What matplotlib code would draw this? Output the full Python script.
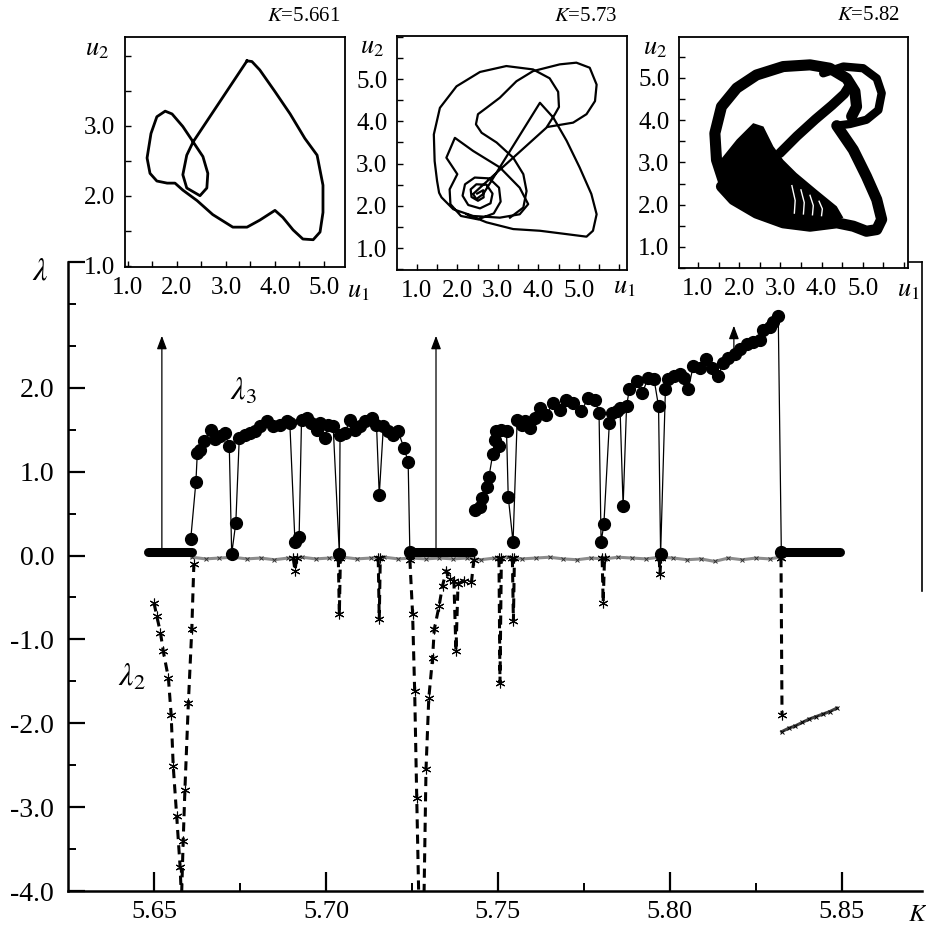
import numpy as np
import matplotlib
matplotlib.use("Agg")
import matplotlib.pyplot as plt

plt.rcParams['font.family'] = ['Liberation Serif', 'DejaVu Serif']
plt.rcParams['mathtext.fontset'] = 'stix'

# ---------------- main panel: Lyapunov exponents vs K ----------------
# periodic windows (thick dotted band just above zero)
band_start = [5.6483, 5.7244, 5.8323]
band_end = [5.6610, 5.7427, 5.8494]
band_level = 0.04

# lambda_3 (filled circles), two chaotic windows
lam3a_k = [5.6607, 5.6622, 5.6626, 5.6634, 5.6645, 5.6665, 5.6677, 5.6692, 5.6706, 5.6719,
           5.6726, 5.6738, 5.6748, 5.6765, 5.6780, 5.6795, 5.6808, 5.6828, 5.6847, 5.6866,
           5.6886, 5.6895, 5.6910, 5.6922, 5.6929, 5.6944, 5.6958, 5.6973, 5.6982, 5.6997,
           5.7007, 5.7021, 5.7039, 5.7041, 5.7055, 5.7070, 5.7084, 5.7099, 5.7113, 5.7133,
           5.7147, 5.7155, 5.7167, 5.7181, 5.7196, 5.7210, 5.7227, 5.7239, 5.7244]
lam3a_v = [0.20, 0.88, 1.22, 1.26, 1.36, 1.50, 1.39, 1.42, 1.46, 1.30,
           0.02, 0.39, 1.40, 1.44, 1.46, 1.48, 1.54, 1.60, 1.54, 1.56,
           1.60, 1.58, 0.16, 0.22, 1.62, 1.64, 1.58, 1.50, 1.58, 1.40,
           1.56, 1.54, 0.02, 1.44, 1.46, 1.62, 1.50, 1.54, 1.60, 1.64,
           1.56, 0.72, 1.54, 1.48, 1.44, 1.48, 1.28, 1.12, 0.04]
lam3b_k = [5.7433, 5.7448, 5.7453, 5.7467, 5.7474, 5.7485, 5.7491, 5.7504, 5.7494, 5.7508,
           5.7525, 5.7530, 5.7544, 5.7556, 5.7569, 5.7580, 5.7593, 5.7607, 5.7622, 5.7641,
           5.7660, 5.7680, 5.7699, 5.7719, 5.7743, 5.7762, 5.7782, 5.7794, 5.7800, 5.7808,
           5.7824, 5.7831, 5.7845, 5.7855, 5.7864, 5.7874, 5.7882, 5.7903, 5.7920, 5.7937,
           5.7954, 5.7967, 5.7973, 5.7987, 5.7995, 5.8012, 5.8029, 5.8040, 5.8053, 5.8068,
           5.8087, 5.8105, 5.8121, 5.8141, 5.8155, 5.8170, 5.8189, 5.8203, 5.8223, 5.8242,
           5.8262, 5.8271, 5.8291, 5.8300, 5.8315, 5.8324]
lam3b_v = [0.54, 0.58, 0.68, 0.82, 0.94, 1.21, 1.38, 1.31, 1.48, 1.50,
           1.49, 0.70, 0.16, 1.62, 1.56, 1.60, 1.52, 1.64, 1.76, 1.68,
           1.82, 1.74, 1.86, 1.82, 1.72, 1.88, 1.86, 1.70, 0.16, 0.37,
           1.58, 1.70, 1.72, 1.76, 0.59, 1.78, 1.98, 2.08, 1.94, 2.12,
           2.10, 1.78, 0.02, 1.98, 2.10, 2.14, 2.17, 2.12, 1.98, 2.26,
           2.24, 2.34, 2.24, 2.14, 2.30, 2.36, 2.40, 2.46, 2.52, 2.54,
           2.57, 2.69, 2.73, 2.79, 2.86, 0.04]

# lambda_1 ~ 0 (noisy grey crosses)
lam1_k = [5.661, 5.665, 5.669, 5.673, 5.677, 5.681, 5.685, 5.689, 5.693, 5.697,
          5.701, 5.705, 5.709, 5.713, 5.717, 5.721, 5.725, 5.729, 5.733, 5.737,
          5.741, 5.745, 5.749, 5.753, 5.757, 5.761, 5.765, 5.769, 5.773, 5.777,
          5.781, 5.785, 5.789, 5.793, 5.797, 5.801, 5.805, 5.809, 5.813, 5.817,
          5.821, 5.825, 5.829, 5.832]
lam1_v = [-0.02, -0.04, -0.03, -0.02, -0.04, -0.03, -0.05, -0.03, -0.02, -0.04,
          -0.03, -0.02, -0.04, -0.03, -0.02, -0.04, -0.03, -0.04, -0.03, -0.04,
          -0.03, -0.05, -0.03, -0.02, -0.04, -0.03, -0.02, -0.04, -0.05, -0.03,
          -0.04, -0.02, -0.03, -0.04, -0.02, -0.03, -0.05, -0.04, -0.07, -0.03,
          -0.05, -0.03, -0.04, -0.02]

# lambda_2 dips (dashed with asterisks)
lam2_dips = [
    ([5.6500, 5.6508, 5.6519, 5.6527, 5.6542, 5.6550, 5.6556, 5.6566, 5.6576, 5.6580,
      5.6585, 5.6590, 5.6600, 5.6610, 5.6616],
     [-0.56, -0.72, -0.92, -1.14, -1.46, -1.90, -2.51, -3.10, -3.71, -4.10,
      -3.40, -2.79, -1.76, -0.88, -0.10]),
    ([5.6905, 5.6910, 5.6915], [-0.03, -0.18, -0.03]),
    ([5.7036, 5.7039, 5.7042], [-0.03, -0.70, -0.03]),
    ([5.7152, 5.7155, 5.7158], [-0.03, -0.76, -0.03]),
    ([5.7244, 5.7252, 5.7258, 5.7264, 5.7270, 5.7285, 5.7291, 5.7299, 5.7310, 5.7315,
      5.7329, 5.7339, 5.7350, 5.7360, 5.7372, 5.7378, 5.7384, 5.7400, 5.7423, 5.7430],
     [-0.05, -0.70, -1.62, -2.89, -4.10, -4.10, -2.54, -1.70, -1.22, -0.88,
      -0.60, -0.36, -0.18, -0.28, -0.30, -1.14, -0.34, -0.30, -0.32, -0.05]),
    ([5.7503, 5.7506, 5.7510], [-0.03, -1.52, -0.03]),
    ([5.7542, 5.7545, 5.7548], [-0.03, -0.78, -0.03]),
    ([5.7803, 5.7806, 5.7810], [-0.03, -0.56, -0.03]),
    ([5.7969, 5.7971, 5.7974], [-0.03, -0.22, -0.03]),
    ([5.8323, 5.8326], [-0.03, -1.90]),
]
lam2_tail_k = [5.8325, 5.8345, 5.8365, 5.8385, 5.8405, 5.8425, 5.8445, 5.8465, 5.8485]
lam2_tail_v = [-2.10, -2.06, -2.03, -1.99, -1.95, -1.92, -1.89, -1.86, -1.82]

# off-scale arrows
arrow_k = [5.6523, 5.7320, 5.8186]
arrow_base = [0.04, 0.04, 2.43]
arrow_top = [2.62, 2.62, 2.74]

k_major = [5.65, 5.70, 5.75, 5.80, 5.85]
k_minor = [5.675, 5.725, 5.775, 5.825]
lam_major = [-4.0, -3.0, -2.0, -1.0, 0.0, 1.0, 2.0, 3.5]
lam_labels = ['-4.0', '-3.0', '-2.0', '-1.0', '0.0', '1.0', '2.0', '']
lam_minor = [-3.5, -2.5, -1.5, -0.5, 0.5, 1.5, 2.5, 3.0]

# ---------------- phase portraits (u1, u2) ----------------
p1_u1 = [3.43, 2.33, 2.20, 2.12, 2.20, 2.47, 2.61, 2.63, 2.53, 2.33, 2.12, 1.90, 1.76, 1.59,
         1.47, 1.39, 1.45, 1.59, 1.80, 1.96, 2.12, 2.41, 2.73, 3.14, 3.43, 3.69, 4.00, 4.16,
         4.37, 4.57, 4.78, 4.92, 4.98, 4.98, 4.86, 4.61, 4.31, 4.00, 3.69, 3.53, 3.43]
p1_u2 = [3.93, 2.77, 2.58, 2.30, 2.11, 2.00, 2.11, 2.32, 2.56, 2.77, 2.99, 3.17, 3.21, 3.13,
         2.89, 2.54, 2.32, 2.21, 2.18, 2.18, 2.08, 1.93, 1.73, 1.55, 1.55, 1.65, 1.79, 1.69,
         1.51, 1.38, 1.37, 1.48, 1.76, 2.15, 2.58, 2.82, 3.17, 3.49, 3.80, 3.92, 3.93]

p2_u1 = [2.49, 2.64, 2.65, 2.51, 2.35, 2.33, 2.47, 2.72, 2.87, 2.82, 2.56, 2.27, 2.13, 2.19,
         2.43, 2.79, 3.03, 3.07, 2.90, 2.51, 2.09, 1.83, 1.81, 2.00, 1.73, 1.94, 2.39, 3.05,
         3.54, 3.75, 3.54, 3.05, 2.39, 1.90, 1.61, 1.55, 1.50, 1.44, 1.42, 1.57, 1.98, 2.56,
         3.21, 3.87, 4.28, 4.49, 4.51, 4.41, 4.20, 2.56, 2.39, 2.47, 2.64, 4.04, 4.37, 4.70,
         5.02, 5.31, 5.44, 5.35, 5.19, 4.70, 4.04, 3.38, 2.72, 2.23]
p2_u2 = [2.29, 2.37, 2.20, 2.12, 2.21, 2.39, 2.51, 2.50, 2.29, 2.06, 1.94, 2.02, 2.24, 2.51,
         2.67, 2.65, 2.43, 2.10, 1.82, 1.68, 1.76, 2.04, 2.39, 2.75, 3.14, 3.61, 3.30, 2.91,
         2.43, 2.04, 1.80, 1.72, 1.76, 1.92, 2.20, 2.31, 2.59, 3.06, 3.69, 4.32, 4.83, 5.17,
         5.31, 5.23, 5.02, 4.70, 4.34, 4.17, 3.85, 2.43, 2.28, 2.16, 2.28, 4.44, 4.09, 3.54,
         2.91, 2.28, 1.80, 1.41, 1.27, 1.33, 1.41, 1.45, 1.61, 1.80]
p2b_u1 = [4.24, 4.86, 5.19, 5.40, 5.44, 5.27, 4.94, 4.53, 3.87, 3.46, 3.05, 2.72, 2.51, 2.46,
          2.60, 2.97, 3.38, 3.63, 3.71, 3.63, 3.30]
p2b_u2 = [3.87, 3.97, 4.17, 4.48, 4.87, 5.27, 5.39, 5.35, 5.19, 4.95, 4.56, 4.32, 4.17, 3.93,
          3.73, 3.50, 3.14, 2.75, 2.35, 1.96, 1.72]

# K=5.82 chaotic attractor: thick bands + dense filled core
p3_arc_u1 = [1.66, 1.45, 1.41, 1.57, 1.94, 2.42, 3.07, 3.72, 4.20, 4.61, 4.81, 4.85, 4.73]
p3_arc_u2 = [2.43, 3.06, 3.69, 4.32, 4.76, 5.07, 5.27, 5.31, 5.23, 4.99, 4.68, 4.32, 4.09]
p3_lobe_u1 = [4.04, 4.53, 5.01, 5.34, 5.46, 5.38, 5.09, 4.69, 4.37]
p3_lobe_u2 = [5.11, 5.27, 5.23, 4.99, 4.64, 4.24, 4.01, 3.91, 3.87]
p3_diag_u1 = [2.99, 3.40, 3.85, 4.25, 4.55, 4.70]
p3_diag_u2 = [3.22, 3.62, 4.02, 4.35, 4.62, 4.85]
p3_low_u1 = [4.37, 4.77, 5.09, 5.34, 5.46, 5.34, 5.09, 4.77, 4.37, 3.72, 3.07, 2.42, 1.86, 1.57]
p3_low_u2 = [3.87, 3.30, 2.67, 2.12, 1.65, 1.41, 1.37, 1.49, 1.57, 1.49, 1.57, 1.80, 2.12, 2.43]
p3_fill_u1 = [1.53, 1.41, 1.61, 1.94, 2.34, 2.59, 2.83, 3.07, 3.39, 3.88, 4.37, 4.53, 4.04,
              3.39, 2.75, 2.10, 1.66]
p3_fill_u2 = [2.43, 2.91, 3.14, 3.54, 3.93, 3.85, 3.38, 3.06, 2.75, 2.35, 1.96, 1.69, 1.57,
              1.61, 1.76, 2.00, 2.20]
p3_hatch = [([3.28, 3.36, 3.34], [2.45, 2.10, 1.80]),
            ([3.50, 3.58, 3.56], [2.35, 2.05, 1.78]),
            ([3.72, 3.80, 3.78], [2.22, 1.98, 1.76]),
            ([3.94, 4.02, 4.00], [2.08, 1.90, 1.74])]

fig = plt.figure(figsize=(9.26, 9.27), dpi=100)

# main axes
ax = fig.add_axes([0.0734, 0.0388, 0.9223, 0.6786])
ax.set_xlim(5.625, 5.8733)
ax.set_ylim(-4.0, 3.5)
ax.patch.set_alpha(0)
ax.spines['top'].set_visible(False)
ax.spines['right'].set_bounds(-0.42, 3.5)
for s in ['left', 'bottom', 'right']:
    ax.spines[s].set_linewidth(1.8)
ax.spines['right'].set_linewidth(1.2)
ax.plot([0.985, 1.0], [1.0, 1.0], transform=ax.transAxes, color='k', lw=1.2, clip_on=False)

ax.set_xticks(k_major)
ax.set_xticklabels(['%.2f' % k for k in k_major])
ax.set_xticks(k_minor, minor=True)
ax.set_yticks(lam_major)
ax.set_yticklabels(lam_labels)
ax.set_yticks(lam_minor, minor=True)
ax.tick_params(which='major', direction='in', length=12, width=1.6, labelsize=20, pad=10)
ax.tick_params(which='minor', direction='in', length=6, width=1.4)
ax.tick_params(axis='x', which='major', length=14, labelsize=19, pad=7)

for a, b in zip(band_start, band_end):
    ax.plot([a, b], [band_level, band_level], color='k', lw=6.5, solid_capstyle='round', zorder=4)

ax.plot(lam1_k, lam1_v, color='0.55', lw=2.2, zorder=2)
ax.plot(lam1_k, lam1_v, ls='none', marker='x', ms=3, mew=0.7, color='0.2', zorder=2)

for ks, vs in lam2_dips:
    ax.plot(ks, vs, color='k', lw=2.2, ls=(0, (3, 2)), zorder=3)
    ax.plot(ks, vs, ls='none', marker=(6, 2, 0), ms=7, mew=0.8, color='k', zorder=3)
ax.plot(lam2_tail_k, lam2_tail_v, color='0.25', lw=2.2, zorder=3)
ax.plot(lam2_tail_k, lam2_tail_v, ls='none', marker='x', ms=3.5, mew=0.7, color='k', zorder=3)

for ks, vs in [(lam3a_k, lam3a_v), (lam3b_k, lam3b_v)]:
    ax.plot(ks, vs, color='k', lw=0.9, marker='o', ms=8.5, zorder=5)

for k, b, t in zip(arrow_k, arrow_base, arrow_top):
    ax.annotate('', xy=(k, t), xytext=(k, b),
                arrowprops=dict(arrowstyle='-|>,head_length=0.8,head_width=0.3',
                                color='k', lw=0.9, shrinkA=0, shrinkB=0), zorder=6)

ax.text(-0.033, 0.984, r'$\lambda$', transform=ax.transAxes, fontsize=23,
        ha='center', va='center')
ax.text(0.995, -0.038, r'$K$', transform=ax.transAxes, fontsize=18, ha='center', va='center')
ax.text(5.6759, 1.95, r'$\lambda_3$', fontsize=23, ha='center', va='center')
ax.text(5.6436, -1.46, r'$\lambda_2$', fontsize=23, ha='center', va='center')


def inset(rect, xlim, ylim, xlab, ylab, title, tpos, u2pos, u1pos):
    a = fig.add_axes(rect)
    a.set_xlim(xlim)
    a.set_ylim(ylim)
    for s in a.spines.values():
        s.set_linewidth(1.3)
    a.set_xticks(xlab)
    a.set_xticklabels(['%.1f' % v for v in xlab])
    a.set_yticks(ylab)
    a.set_yticklabels(['%.1f' % v for v in ylab])
    a.xaxis.set_minor_locator(matplotlib.ticker.MultipleLocator(0.5))
    a.yaxis.set_minor_locator(matplotlib.ticker.MultipleLocator(0.5))
    a.tick_params(which='both', direction='in', length=4, width=1.0, labelsize=18, pad=7)
    a.text(tpos[0], tpos[1], r'$K$=' + title, transform=a.transAxes, fontsize=15,
           ha='right', va='center')
    a.text(u2pos[0], u2pos[1], r'$u_2$', transform=a.transAxes, fontsize=19,
           ha='center', va='center')
    a.text(u1pos[0], u1pos[1], r'$u_1$', transform=a.transAxes, fontsize=19,
           ha='center', va='center')
    return a


ticks5 = [1.0, 2.0, 3.0, 4.0, 5.0]
a1 = inset([0.135, 0.712, 0.2376, 0.248], (0.94, 5.43), (0.98, 4.27), ticks5, [1.0, 2.0, 3.0],
           '5.661', (0.977, 1.09), (-0.127, 0.943), (1.06, -0.109))
a1.plot(p1_u1, p1_u2, color='k', lw=2.0, solid_joinstyle='round')

a2 = inset([0.4287, 0.7087, 0.2484, 0.2524], (0.51, 6.19), (0.48, 6.02), ticks5, ticks5,
           '5.73', (0.96, 1.085), (-0.109, 0.949), (0.99, -0.077))
a2.plot(p2_u1, p2_u2, color='k', lw=1.6, solid_joinstyle='round')
a2.plot(p2b_u1, p2b_u2, color='k', lw=1.6, solid_joinstyle='round')

a3 = inset([0.7333, 0.7109, 0.2473, 0.2492], (0.54, 6.10), (0.50, 5.97), ticks5, ticks5,
           '5.82', (0.965, 1.095), (-0.105, 0.948), (1.0, -0.10))
a3.fill(p3_fill_u1, p3_fill_u2, color='k', lw=0)
kw = dict(color='k', solid_joinstyle='round', solid_capstyle='round')
a3.plot(p3_arc_u1, p3_arc_u2, lw=8, **kw)
a3.plot(p3_lobe_u1, p3_lobe_u2, lw=6, **kw)
a3.plot(p3_diag_u1, p3_diag_u2, lw=7, **kw)
a3.plot(p3_low_u1, p3_low_u2, lw=8, **kw)
for hu, hv in p3_hatch:
    a3.plot(hu, hv, color='w', lw=1.0)

fig.savefig('out.png', dpi=100)
